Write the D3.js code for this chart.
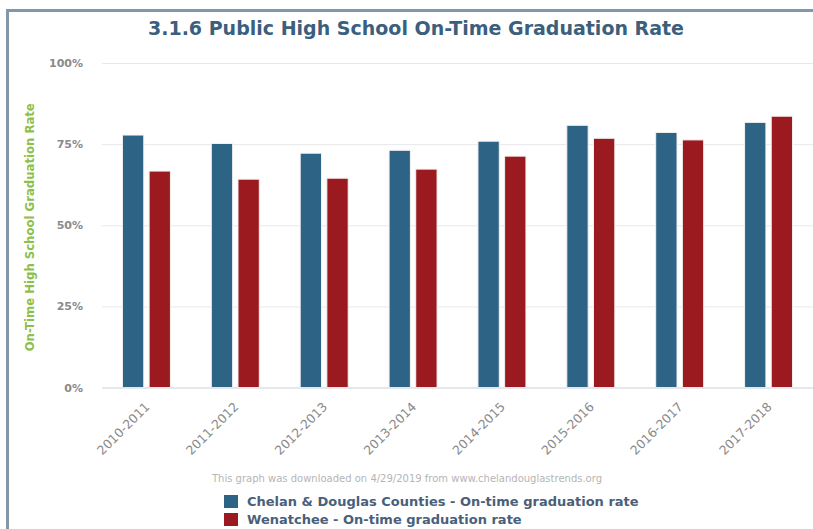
<!DOCTYPE html>
<html>
<head>
<meta charset="utf-8">
<script src="https://cdn.jsdelivr.net/npm/d3@7/dist/d3.min.js"></script>
<style>
  body { margin: 0; background: #fff; }
  svg { display: block; font-family: "DejaVu Sans", sans-serif; }
</style>
</head>
<body>
<div id="chart"></div>
<script>
var years = ["2010-2011","2011-2012","2012-2013","2013-2014","2014-2015","2015-2016","2016-2017","2017-2018"];
var seriesNames = ["Chelan & Douglas Counties - On-time graduation rate", "Wenatchee - On-time graduation rate"];
var chelanDouglas = [77.8, 75.2, 72.2, 73.1, 75.9, 80.8, 78.6, 81.7];
var wenatchee = [66.7, 64.2, 64.5, 67.3, 71.3, 76.8, 76.3, 83.6];
var yTicks = [0, 25, 50, 75, 100];

var colors = ["#2d6385", "#9b1a1f"];
var width = 813, height = 529;
var padding = {left:102, right:0, top:63, bottom:141.5};

var svg = d3.select("#chart")
	.append("svg")
	.attr("width", width)
	.attr("height", height);

// frame around the chart
svg.append("rect")
	.attr("x", 7.5)
	.attr("y", 10.5)
	.attr("width", 830)
	.attr("height", 600)
	.attr("fill", "none")
	.attr("stroke", "#8497a9")
	.attr("stroke-width", 3);

svg.append("text")
	.attr("x", 416)
	.attr("y", 35)
	.attr("text-anchor", "middle")
	.attr("font-size", "19px")
	.attr("font-weight", "bold")
	.attr("fill", "#3b5f7d")
	.text("3.1.6 Public High School On-Time Graduation Rate");

var plotW = width - padding.left - padding.right;
var plotH = height - padding.top - padding.bottom;

var xScale = d3.scaleBand()
	.domain(years)
	.range([0, plotW]);

var xSeries = d3.scaleBand()
	.domain([0, 1])
	.range([xScale.bandwidth() * 0.2, xScale.bandwidth() * 0.8])
	.paddingInner(0.2)
	.paddingOuter(0.1);

var yScale = d3.scaleLinear()
	.domain([0, 100])
	.range([plotH, 0]);

var g = svg.append("g")
	.attr("transform", "translate(" + padding.left + "," + padding.top + ")");

// grid + y labels
var yAxis = d3.axisLeft(yScale)
	.tickValues(yTicks)
	.tickFormat(function(d){ return d + "%"; })
	.tickSizeInner(-plotW)
	.tickSizeOuter(0)
	.tickPadding(19);

g.append("g")
	.attr("class", "y-axis")
	.call(yAxis)
	.call(function(sel){
		sel.select(".domain").remove();
		sel.selectAll(".tick line").attr("stroke", "#e8e8e8");
		sel.selectAll(".tick text")
			.attr("fill", "#8a8a8a")
			.attr("font-size", "11px")
			.attr("font-weight", "bold")
			.attr("font-family", "DejaVu Sans");
	});

var data = years.map(function(y, i){ return { year: y, values: [chelanDouglas[i], wenatchee[i]] }; });

var groups = g.selectAll(".grp")
	.data(data)
	.enter().append("g")
	.attr("class", "grp")
	.attr("transform", function(d){ return "translate(" + xScale(d.year) + ",0)"; });

groups.selectAll("rect")
	.data(function(d){ return d.values.map(function(v, k){ return { k: k, v: v }; }); })
	.enter().append("rect")
	.attr("x", function(d){ return xSeries(d.k); })
	.attr("y", function(d){ return yScale(d.v); })
	.attr("width", xSeries.bandwidth())
	.attr("height", function(d){ return plotH - yScale(d.v); })
	.attr("fill", function(d){ return colors[d.k]; })
	.attr("stroke", "#f2f2f2")
	.attr("stroke-width", 1);

// x axis
var xAxis = d3.axisBottom(xScale)
	.tickSizeInner(0)
	.tickSizeOuter(0)
	.tickPadding(0);

g.append("g")
	.attr("class", "x-axis")
	.attr("transform", "translate(0," + plotH + ")")
	.call(xAxis)
	.call(function(sel){
		sel.select(".domain").attr("stroke", "#d6dbe4");
		sel.selectAll(".tick text")
			.attr("fill", "#8a8a8a")
			.attr("font-size", "12.5px")
			.attr("font-family", "DejaVu Sans")
			.attr("text-anchor", "end")
			.attr("y", 0)
			.attr("dy", 0)
			.attr("transform", "translate(4,20) rotate(-45)");
	});

// y axis title
svg.append("text")
	.attr("transform", "translate(34," + (padding.top + plotH / 2 + 2) + ") rotate(-90)")
	.attr("text-anchor", "middle")
	.attr("font-size", "11.7px")
	.attr("font-weight", "bold")
	.attr("fill", "#8cc04b")
	.text("On-Time High School Graduation Rate");

svg.append("text")
	.attr("x", 407)
	.attr("y", 482)
	.attr("text-anchor", "middle")
	.attr("font-size", "10px")
	.attr("fill", "#b5b5b5")
	.text("This graph was downloaded on 4/29/2019 from www.chelandouglastrends.org");

// legend
var legend = svg.selectAll(".legend")
	.data(seriesNames)
	.enter().append("g")
	.attr("class", "legend")
	.attr("transform", function(d, i){ return "translate(224," + (495 + i * 18) + ")"; });

legend.append("rect")
	.attr("width", 14)
	.attr("height", 13)
	.attr("fill", function(d, i){ return colors[i]; });

legend.append("text")
	.attr("x", 23)
	.attr("y", 11)
	.attr("font-size", "13px")
	.attr("font-weight", "bold")
	.attr("fill", "#4a5f7a")
	.text(function(d){ return d; });
</script>
</body>
</html>
